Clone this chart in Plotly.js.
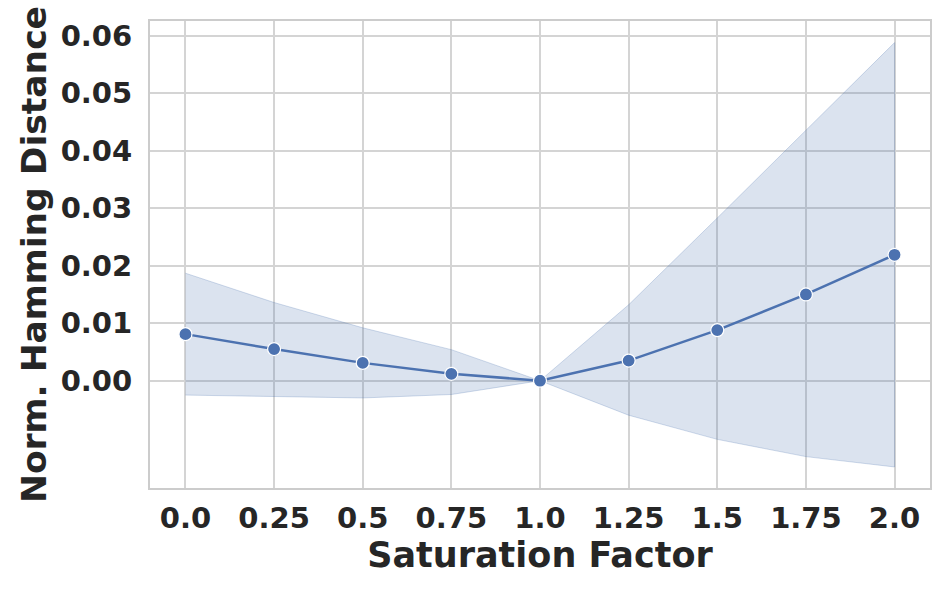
<!DOCTYPE html>
<html>
<head>
<meta charset="utf-8">
<script src="https://cdn.plot.ly/plotly-3.0.1.min.js"></script>
<style>html,body{margin:0;padding:0;background:#fff;}#chart{width:952px;height:595px;}</style>
</head>
<body>
<div id="chart"></div>
<script>
var saturation = [0.0, 0.25, 0.5, 0.75, 1.0, 1.25, 1.5, 1.75, 2.0];
var meanDist   = [0.0081, 0.0055, 0.0031, 0.0012, 0.0, 0.0035, 0.0088, 0.0150, 0.0219];
var upperBand  = [0.0187, 0.0136, 0.0092, 0.0054, 0.0, 0.0132, 0.0283, 0.0436, 0.0588];
var lowerBand  = [-0.0025, -0.0028, -0.0030, -0.0024, 0.0, -0.0060, -0.0102, -0.0132, -0.0150];
var xTickLabels = ["0.0", "0.25", "0.5", "0.75", "1.0", "1.25", "1.5", "1.75", "2.0"];
var yTickVals = [0.0, 0.01, 0.02, 0.03, 0.04, 0.05, 0.06];
var yTickLabels = ["0.00", "0.01", "0.02", "0.03", "0.04", "0.05", "0.06"];

var bandX = saturation.concat(saturation.slice().reverse());
var bandY = upperBand.concat(lowerBand.slice().reverse());

var traces = [
  {
    x: bandX, y: bandY, type: 'scatter', mode: 'lines', fill: 'toself',
    fillcolor: 'rgba(76,114,176,0.2)',
    line: {color: 'rgba(76,114,176,0.25)', width: 1},
    hoverinfo: 'skip', showlegend: false
  },
  {
    x: saturation, y: meanDist, type: 'scatter', mode: 'lines+markers',
    line: {color: '#4c72b0', width: 2.5},
    marker: {color: '#4c72b0', size: 13, line: {color: '#ffffff', width: 1.2}},
    showlegend: false
  }
];

var fontFam = 'DejaVu Sans, sans-serif';
var layout = {
  width: 952, height: 595,
  margin: {l: 150, r: 22, t: 21, b: 107},
  paper_bgcolor: '#ffffff', plot_bgcolor: '#ffffff',
  font: {family: fontFam, color: '#262626'},
  xaxis: {
    range: [-0.1, 2.1],
    tickvals: saturation, ticktext: xTickLabels,
    tickfont: {family: fontFam, size: 29, color: '#262626', weight: 'bold'},
    ticks: 'outside', ticklen: 3, tickcolor: 'rgba(0,0,0,0)',
    showgrid: true, gridcolor: '#d4d4d4', gridwidth: 2,
    showline: true, linecolor: '#cccccc', linewidth: 2, mirror: true,
    zeroline: false,
    title: {text: '<b>Saturation Factor</b>', font: {family: fontFam, size: 35, color: '#262626'}, standoff: 3}
  },
  yaxis: {
    range: [-0.01866, 0.06256],
    tickvals: yTickVals, ticktext: yTickLabels,
    tickfont: {family: fontFam, size: 29, color: '#262626', weight: 'bold'},
    ticks: 'outside', ticklen: 10, tickcolor: 'rgba(0,0,0,0)',
    showgrid: true, gridcolor: '#d4d4d4', gridwidth: 2,
    showline: true, linecolor: '#cccccc', linewidth: 2, mirror: true,
    zeroline: false,
    title: {text: '<b>Norm. Hamming Distance</b>', font: {family: fontFam, size: 34.5, color: '#262626'}, standoff: 4}
  }
};

Plotly.newPlot('chart', traces, layout, {displayModeBar: false, staticPlot: true});
</script>
</body>
</html>
